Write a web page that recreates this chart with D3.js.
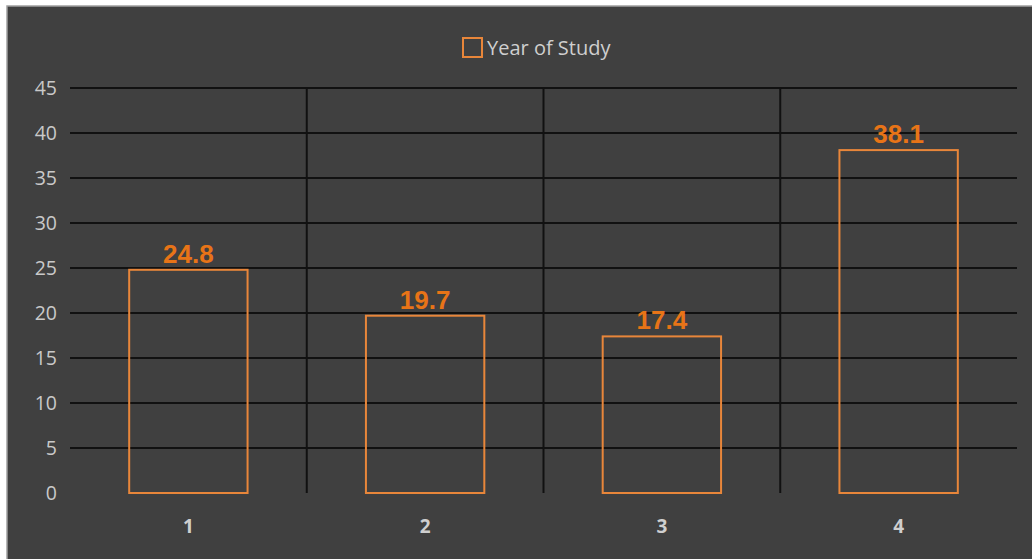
<!DOCTYPE html>
<html>
<head>
<meta charset="utf-8">
<script src="https://cdn.jsdelivr.net/npm/d3@7"></script>
<style>
  body { margin: 0; background: #fff; }
</style>
</head>
<body>
<div id="chart"></div>
<script>
// values
var years = ['1', '2', '3', '4'];
var percents = [24.8, 19.7, 17.4, 38.1];
var yTicks = [0, 5, 10, 15, 20, 25, 30, 35, 40, 45];
var seriesName = 'Year of Study';

var W = 1032, H = 559;
var margin = {top: 88, right: 15, bottom: 66, left: 70};
var width = W - margin.left - margin.right,
    height = H - margin.top - margin.bottom;

var orange = '#e8863a';

var svg = d3.select('#chart')
    .append('svg')
    .attr('width', W)
    .attr('height', H);

// chart background with light border on the top/left
svg.append('rect')
    .attr('x', 7).attr('y', 6)
    .attr('width', W).attr('height', H)
    .attr('fill', '#404040')
    .attr('stroke', '#a0a0a0')
    .attr('stroke-width', 1.5);

var g = svg.append('g')
    .attr('transform', 'translate(' + margin.left + ',' + margin.top + ')');

var x = d3.scaleBand().domain(years).range([0, width]).padding(0);
var y = d3.scaleLinear().domain([0, 45]).range([height, 0]);

// horizontal gridlines
g.selectAll('.hgrid')
    .data(yTicks.slice(1))
    .enter().append('line')
    .attr('x1', 0).attr('x2', width)
    .attr('y1', function(d) { return y(d); })
    .attr('y2', function(d) { return y(d); })
    .attr('stroke', '#111')
    .attr('stroke-width', 2);

// vertical dividers between categories
g.selectAll('.vgrid')
    .data(years.slice(1))
    .enter().append('line')
    .attr('x1', function(d) { return x(d); })
    .attr('x2', function(d) { return x(d); })
    .attr('y1', y(45)).attr('y2', y(0))
    .attr('stroke', '#111')
    .attr('stroke-width', 2);

// y axis labels
var yAxis = d3.axisLeft(y).tickValues(yTicks).tickSize(0).tickPadding(13);
var ya = g.append('g').call(yAxis);
ya.select('.domain').remove();
ya.selectAll('text')
    .attr('fill', '#c9c9c9')
    .style('font-family', '"Open Sans", "Noto Sans", sans-serif')
    .style('font-size', '19.5px');

// x axis labels
var xAxis = d3.axisBottom(x).tickSize(0).tickPadding(27);
var xa = g.append('g').attr('transform', 'translate(0,' + height + ')').call(xAxis);
xa.select('.domain').remove();
xa.selectAll('text')
    .attr('fill', '#cfcfcf')
    .style('font-family', '"Open Sans", "Noto Sans", sans-serif')
    .style('font-weight', 'bold')
    .style('font-size', '19px');

// bars
var barW = x.bandwidth() * 0.5;
g.selectAll('.bar')
    .data(percents)
    .enter().append('rect')
    .attr('x', function(d, i) { return x(years[i]) + (x.bandwidth() - barW) / 2; })
    .attr('y', function(d) { return y(d); })
    .attr('width', barW)
    .attr('height', function(d) { return y(0) - y(d); })
    .attr('fill', 'none')
    .attr('stroke', orange)
    .attr('stroke-width', 2);

// data labels
g.selectAll('.lbl')
    .data(percents)
    .enter().append('text')
    .attr('x', function(d, i) { return x(years[i]) + x.bandwidth() / 2; })
    .attr('y', function(d) { return y(d) - 7; })
    .attr('text-anchor', 'middle')
    .attr('fill', '#e87417')
    .style('font-family', '"Liberation Sans", Arial, sans-serif')
    .style('font-weight', 'bold')
    .style('font-size', '26px')
    .text(function(d) { return d.toFixed(1); });

// legend
var leg = svg.append('g').attr('transform', 'translate(463,38)');
leg.append('rect')
    .attr('width', 19).attr('height', 19)
    .attr('fill', 'none')
    .attr('stroke', orange)
    .attr('stroke-width', 2);
leg.append('text')
    .attr('x', 24).attr('y', 17)
    .attr('fill', '#cfcfcf')
    .style('font-family', '"Open Sans", "Noto Sans", sans-serif')
    .style('font-size', '20px')
    .text(seriesName);
</script>
</body>
</html>
